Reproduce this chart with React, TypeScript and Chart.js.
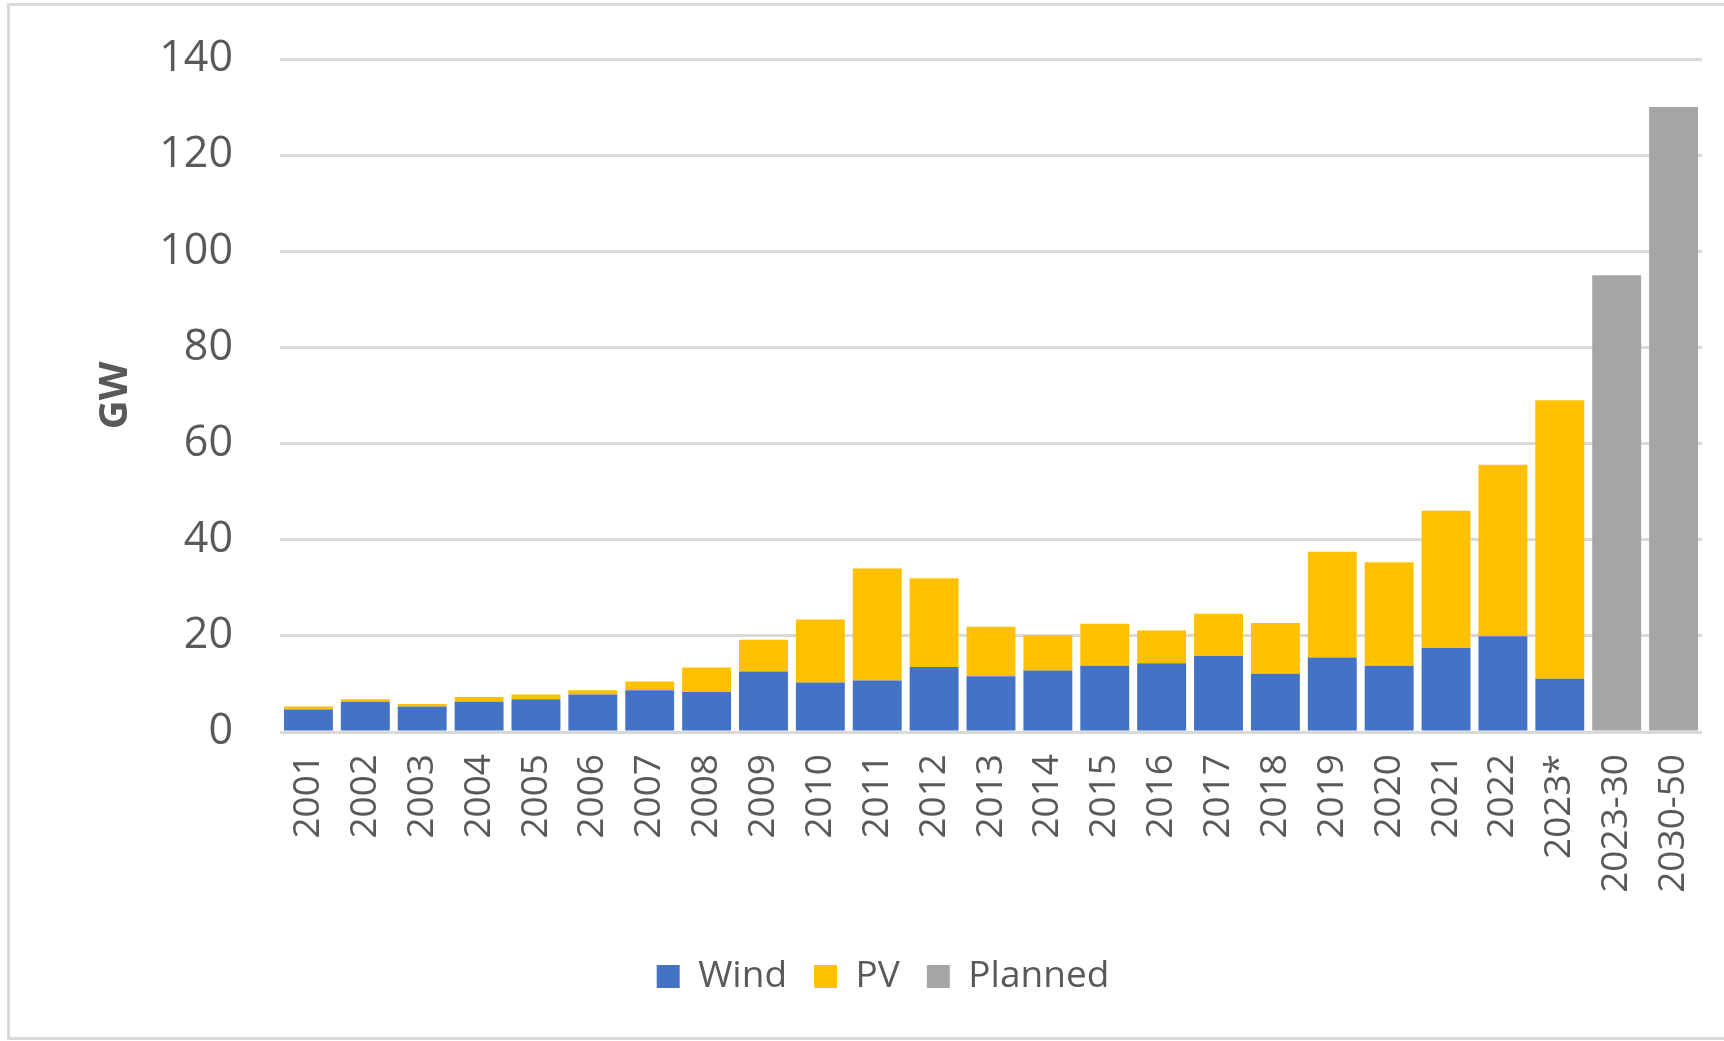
import React, { useEffect, useRef } from "react";
import { Chart, registerables } from "chart.js";

Chart.register(...registerables);

const categories: string[] = [
  "2001", "2002", "2003", "2004", "2005", "2006", "2007", "2008", "2009", "2010",
  "2011", "2012", "2013", "2014", "2015", "2016", "2017", "2018", "2019", "2020",
  "2021", "2022", "2023*", "2023-30", "2030-50",
];

const windValues: (number | null)[] = [
  4.7, 6.3, 5.3, 6.3, 6.8, 7.8, 8.7, 8.3, 12.6, 10.3,
  10.7, 13.5, 11.6, 12.8, 13.8, 14.3, 15.8, 12.1, 15.5, 13.8,
  17.5, 19.9, 11.1, null, null,
];

const pvValues: (number | null)[] = [
  0.6, 0.5, 0.5, 1.0, 1.0, 0.9, 1.8, 5.1, 6.6, 13.1,
  23.3, 18.5, 10.3, 7.3, 8.7, 6.8, 8.8, 10.6, 22.0, 21.5,
  28.5, 35.7, 57.9, null, null,
];

const plannedValues: (number | null)[] = [
  null, null, null, null, null, null, null, null, null, null,
  null, null, null, null, null, null, null, null, null, null,
  null, null, null, 95, 130,
];

const yTicks: number[] = [0, 20, 40, 60, 80, 100, 120, 140];

const FONT = "'Open Sans', 'Noto Sans', sans-serif";
const TEXT = "#595959";

export default function App() {
  const ref = useRef<HTMLCanvasElement | null>(null);

  useEffect(() => {
    const canvas = ref.current;
    if (!canvas) return;
    const chart = new Chart(canvas, {
      type: "bar",
      data: {
        labels: categories,
        datasets: [
          { label: "Wind", data: windValues, backgroundColor: "#4472C4", stack: "s" },
          { label: "PV", data: pvValues, backgroundColor: "#FFC000", stack: "s" },
          { label: "Planned", data: plannedValues, backgroundColor: "#A5A5A5", stack: "s" },
        ],
      },
      options: {
        responsive: false,
        animation: false,
        devicePixelRatio: 1,
        layout: { padding: { left: 64, right: 22, top: 59, bottom: 36 } },
        datasets: {
          bar: { categoryPercentage: 1, barPercentage: 0.86, borderWidth: 0 },
        },
        plugins: {
          tooltip: { enabled: false },
          legend: {
            position: "bottom",
            labels: {
              boxWidth: 23,
              boxHeight: 23,
              padding: 27,
              color: TEXT,
              font: { family: FONT, size: 37 },
            },
          },
        },
        scales: {
          x: {
            stacked: true,
            grid: { display: false, drawTicks: false },
            border: { display: false },
            ticks: {
              autoSkip: false,
              minRotation: 90,
              maxRotation: 90,
              padding: 22,
              color: TEXT,
              font: { family: FONT, size: 37 },
            },
            afterFit: (s: any) => {
              s.height = 199;
              s.paddingLeft = 0;
              s.paddingRight = 0;
            },
          },
          y: {
            stacked: true,
            min: 0,
            max: 140,
            afterBuildTicks: (s: any) => {
              s.ticks = yTicks.map((v) => ({ value: v }));
            },
            grid: { color: "#D9D9D9", lineWidth: 3, drawTicks: false },
            border: { display: false },
            ticks: {
              padding: 47,
              color: TEXT,
              font: { family: FONT, size: 43 },
            },
            title: {
              display: true,
              text: "GW",
              color: TEXT,
              font: { family: FONT, size: 40, weight: "bold" },
              padding: { top: 28, bottom: 0 },
            },
            afterFit: (s: any) => {
              s.width = 216;
              s.paddingTop = 0;
              s.paddingBottom = 0;
            },
          },
        },
      },
    });
    return () => chart.destroy();
  }, []);

  return (
    <div style={{ position: "fixed", left: 0, top: 0, width: 1724, height: 1041, background: "#fff", overflow: "hidden" }}>
      <canvas ref={ref} width={1724} height={1041} style={{ position: "absolute", left: 0, top: 0, width: 1724, height: 1041 }} />
      <div
        style={{
          position: "absolute",
          left: 7,
          top: 3,
          width: 1800,
          height: 1037,
          border: "3px solid #D9D9D9",
          boxSizing: "border-box",
          pointerEvents: "none",
        }}
      />
    </div>
  );
}
